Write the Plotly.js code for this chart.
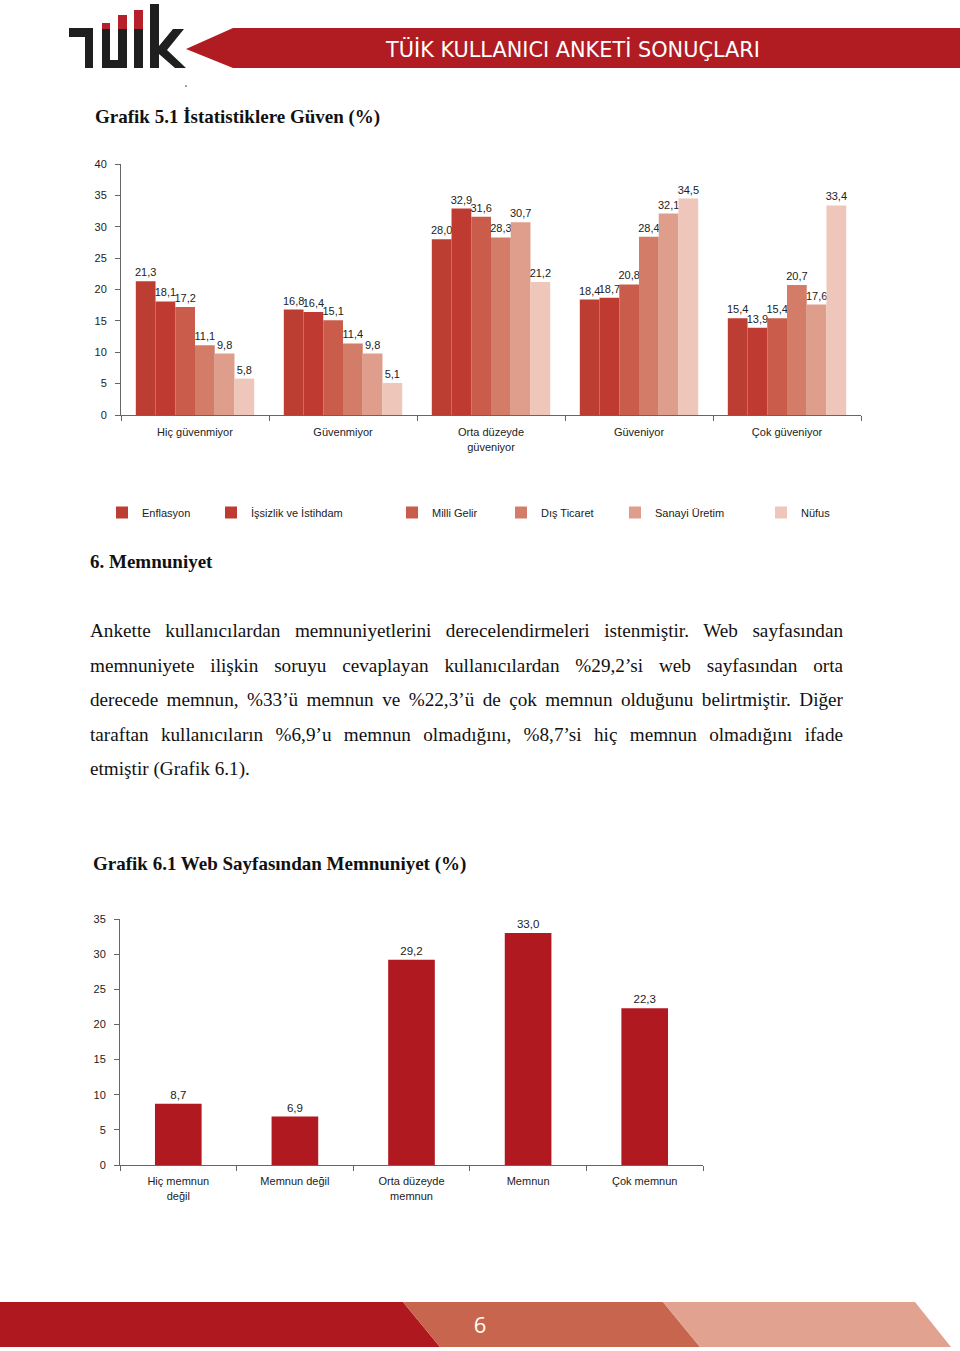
<!DOCTYPE html>
<html>
<head>
<meta charset="utf-8">
<script src="https://cdn.plot.ly/plotly-3.0.1.min.js"></script>
<style>
  html, body { margin:0; padding:0; background:#fff; }
  body { width:960px; height:1351px; position:relative; overflow:hidden; }
  .abs { position:absolute; }
  .serif { font-family:"Liberation Serif","Times New Roman",serif; color:#111; }
  .h { font-weight:bold; font-size:19px; white-space:nowrap; }
  .para { left:90px; top:614px; width:753px; font-size:19.2px; line-height:34.5px; }
  .para div { text-align:justify; text-align-last:justify; white-space:nowrap; }
  .para div.last { text-align-last:left; }
</style>
</head>
<body>
<svg class="abs" style="left:0;top:0" width="960" height="100">
  <!-- logo -->
  <rect x="69" y="28" width="24" height="9" fill="#1f1f1f"/>
  <rect x="85" y="28" width="8" height="40" fill="#1f1f1f"/>
  <rect x="102" y="29" width="8" height="39" fill="#1f1f1f"/>
  <rect x="118" y="29" width="9" height="39" fill="#1f1f1f"/>
  <rect x="102" y="60" width="25" height="8" fill="#1f1f1f"/>
  <rect x="134" y="29" width="9" height="39" fill="#1f1f1f"/>
  <rect x="102" y="23" width="8" height="6" fill="#B5202A"/>
  <rect x="118" y="15" width="9" height="14" fill="#B5202A"/>
  <rect x="134" y="10" width="9" height="19" fill="#B5202A"/>
  <rect x="150" y="4" width="9" height="64" fill="#1f1f1f"/>
  <polygon points="159,46 173,29 184,29 167,50 186,68 175,68 159,54" fill="#1f1f1f"/>
  <circle cx="186" cy="86" r="0.8" fill="#333"/>
  <!-- banner -->
  <polygon points="186,49 233,28 960,28 960,68 233,68" fill="#B01C22"/>
  <text x="386" y="56.5" textLength="374" lengthAdjust="spacingAndGlyphs" fill="#fff"
        font-family="Liberation Sans Narrow, DejaVu Sans Condensed, Liberation Sans, sans-serif" font-size="22">TÜİK KULLANICI ANKETİ SONUÇLARI</text>
</svg>

<div class="abs serif h" style="left:95px;top:106px;">Grafik 5.1 İstatistiklere Güven (%)</div>

<div id="chart1" class="abs" style="left:0;top:140px;width:960px;height:400px;"></div>

<div class="abs serif h" style="left:90px;top:551px;">6. Memnuniyet</div>

<div class="abs serif para">
  <div>Ankette kullanıcılardan memnuniyetlerini derecelendirmeleri istenmiştir. Web sayfasından</div>
  <div>memnuniyete ilişkin soruyu cevaplayan kullanıcılardan %29,2’si web sayfasından orta</div>
  <div>derecede memnun, %33’ü memnun ve %22,3’ü de çok memnun olduğunu belirtmiştir. Diğer</div>
  <div>taraftan kullanıcıların %6,9’u memnun olmadığını, %8,7’si hiç memnun olmadığını ifade</div>
  <div class="last">etmiştir (Grafik 6.1).</div>
</div>

<div class="abs serif h" style="left:93px;top:853px;">Grafik 6.1 Web Sayfasından Memnuniyet (%)</div>

<div id="chart2" class="abs" style="left:0;top:900px;width:960px;height:320px;"></div>

<svg class="abs" style="left:0;top:1300px" width="960" height="51">
  <polygon points="0,2 403,2 440,47 0,47" fill="#B01820"/>
  <polygon points="403,2 663,2 700,47 440,47" fill="#C8654F"/>
  <polygon points="663,2 915,2 951,47 700,47" fill="#E1A390"/>
  <text x="480" y="33" text-anchor="middle" fill="#fff" font-family="Open Sans, Lato, sans-serif" font-size="22">6</text>
</svg>

<script>
// ---- Chart 1 data: Grafik 5.1 İstatistiklere Güven (%)
const trustCategories = ["Hiç güvenmiyor", "Güvenmiyor", "Orta düzeyde<br>güveniyor", "Güveniyor", "Çok güveniyor"];
const seriesNames = ["Enflasyon", "İşsizlik ve İstihdam", "Milli Gelir", "Dış Ticaret", "Sanayi Üretim", "Nüfus"];
const enflasyon = [21.3, 16.8, 28.0, 18.4, 15.4];
const issizlik  = [18.1, 16.4, 32.9, 18.7, 13.9];
const milliGelir = [17.2, 15.1, 31.6, 20.8, 15.4];
const disTicaret = [11.1, 11.4, 28.3, 28.4, 20.7];
const sanayi     = [9.8, 9.8, 30.7, 32.1, 17.6];
const nufus      = [5.8, 5.1, 21.2, 34.5, 33.4];
const seriesColors = ["#BC3D32", "#BF3A30", "#C95C4B", "#D37D69", "#DF9D8B", "#EEC6BA"];

// ---- Chart 2 data: Grafik 6.1 Web Sayfasından Memnuniyet (%)
const satCategories = ["Hiç memnun<br>değil", "Memnun değil", "Orta düzeyde<br>memnun", "Memnun", "Çok memnun"];
const satValues = [8.7, 6.9, 29.2, 33.0, 22.3];

const FONT = "Liberation Sans, Arial, sans-serif";
const seriesValues = [enflasyon, issizlik, milliGelir, disTicaret, sanayi, nufus];
// one legend box per series, placed like the reference legend row
const legendIds = ["legend", "legend2", "legend3", "legend4", "legend5", "legend6"];
const legendLeftPx = [102, 211, 392, 501, 615, 761];

const traces1 = seriesValues.map((vals, i) => ({
  type: "bar",
  name: seriesNames[i],
  legend: legendIds[i],
  x: trustCategories,
  y: vals,
  marker: { color: seriesColors[i], line: { width: 0 } },
  texttemplate: "%{y:.1f}",
  textposition: "outside",
  constraintext: "none",
  cliponaxis: false,
  textfont: { size: 11, color: "#222", family: FONT },
  hoverinfo: "skip"
}));

const axisCommon = {
  showgrid: false, zeroline: false, showline: true, linecolor: "#666", linewidth: 1,
  ticks: "outside", ticklen: 5, tickcolor: "#666", tickfont: { size: 11, color: "#222", family: FONT }
};

const layout1 = {
  width: 960, height: 400,
  margin: { l: 121, r: 99, t: 24, b: 125 },
  paper_bgcolor: "#fff", plot_bgcolor: "#fff",
  separators: ",.",
  barmode: "group", bargap: 0.2, bargroupgap: 0,
  font: { family: FONT, size: 11, color: "#222" },
  xaxis: Object.assign({}, axisCommon, { type: "category", tickson: "boundaries", ticklabelstandoff: 7, automargin: false }),
  yaxis: Object.assign({}, axisCommon, { range: [0, 40], dtick: 5, ticklabelstandoff: 6, automargin: false }),
  showlegend: true
};
legendIds.forEach((id, i) => {
  layout1[id] = {
    orientation: "h", xref: "container", x: legendLeftPx[i] / 960, xanchor: "left",
    yref: "container", y: 0.105, yanchor: "top", itemclick: false,
    bgcolor: "rgba(0,0,0,0)",
    font: { size: 11, color: "#222", family: FONT }
  };
});

Plotly.newPlot("chart1", traces1, layout1, { staticPlot: true });

const trace2 = {
  type: "bar",
  x: satCategories,
  y: satValues,
  marker: { color: "#B0191F", line: { width: 0 } },
  texttemplate: "%{y:.1f}",
  textposition: "outside",
  constraintext: "none",
  cliponaxis: false,
  textfont: { size: 11.5, color: "#222", family: FONT },
  hoverinfo: "skip"
};

const layout2 = {
  width: 960, height: 320,
  margin: { l: 120, r: 257, t: 19, b: 55 },
  paper_bgcolor: "#fff", plot_bgcolor: "#fff",
  separators: ",.",
  bargap: 0.6,
  showlegend: false,
  font: { family: FONT, size: 11, color: "#222" },
  xaxis: Object.assign({}, axisCommon, { type: "category", tickson: "boundaries", ticklabelstandoff: 6, automargin: false }),
  yaxis: Object.assign({}, axisCommon, { range: [0, 35], dtick: 5, ticklabelstandoff: 6, automargin: false })
};

Plotly.newPlot("chart2", [trace2], layout2, { staticPlot: true });
</script>
</body>
</html>
